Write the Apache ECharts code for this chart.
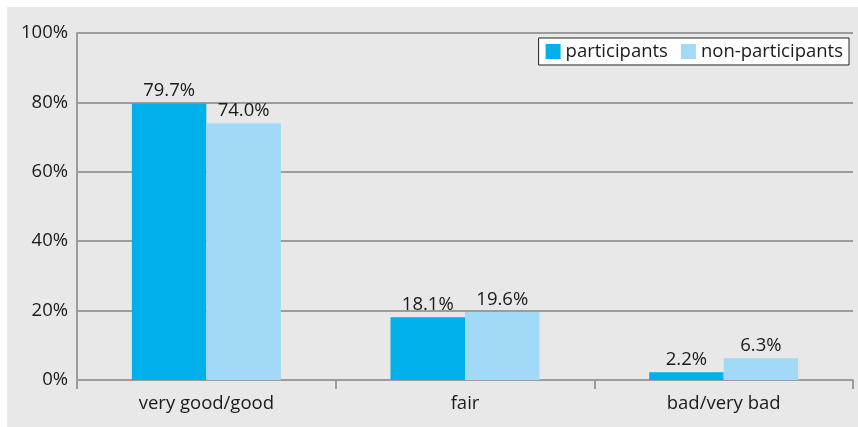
<!DOCTYPE html>
<html>
<head>
<meta charset="utf-8">
<script src="https://cdn.jsdelivr.net/npm/echarts@6/dist/echarts.min.js"></script>
<style>
html,body{margin:0;padding:0;background:#ffffff;}
#wrap{position:absolute;left:7px;top:7px;right:0;bottom:0;background:#e8e8e8;}
#chart{position:absolute;left:0;top:0;width:858px;height:427px;}
</style>
</head>
<body>
<div id="wrap"></div>
<div id="chart"></div>
<script>
const categories = ['very good/good', 'fair', 'bad/very bad'];
const seriesNames = ['participants', 'non-participants'];
const participants = [79.7, 18.1, 2.2];
const nonParticipants = [74.0, 19.6, 6.3];
const yTicks = [0, 20, 40, 60, 80, 100];

const FONT = '"Open Sans", "Noto Sans", sans-serif';
const FS = 18.5;
const chart = echarts.init(document.getElementById('chart'), null, {renderer: 'canvas'});
const labelOpt = {
  show: true, position: 'top', distance: 3,
  color: '#1a1a1a', fontSize: FS, fontFamily: FONT,
  formatter: p => p.value.toFixed(1) + '%'
};
chart.setOption({
  backgroundColor: 'transparent',
  animation: false,
  textStyle: {fontFamily: FONT},
  grid: {left: 77, top: 33, right: 5, bottom: 47, containLabel: false},
  legend: {
    right: 9, top: 38,
    data: seriesNames,
    backgroundColor: '#ffffff',
    borderColor: '#222222', borderWidth: 1, borderRadius: 0,
    padding: [4, 6, 4, 7],
    itemWidth: 15, itemHeight: 15, itemGap: 13,
    icon: 'rect',
    textStyle: {fontSize: FS, color: '#1a1a1a', fontFamily: FONT}
  },
  xAxis: {
    type: 'category',
    data: categories,
    axisLine: {show: true, lineStyle: {color: '#9c9c9c', width: 2}},
    axisTick: {show: true, alignWithLabel: false, length: 9, lineStyle: {color: '#9c9c9c', width: 2}},
    axisLabel: {color: '#1a1a1a', fontSize: FS, fontFamily: FONT, margin: 14}
  },
  yAxis: {
    type: 'value',
    min: yTicks[0], max: yTicks[yTicks.length - 1], interval: 20,
    axisLine: {show: true, lineStyle: {color: '#9c9c9c', width: 2}},
    axisTick: {show: false},
    splitLine: {show: true, lineStyle: {color: '#9c9c9c', width: 2}},
    axisLabel: {color: '#1a1a1a', fontSize: FS, fontFamily: FONT, margin: 9, formatter: '{value}%'}
  },
  series: [
    {name: seriesNames[0], type: 'bar', data: participants, barWidth: 74.5, barGap: '0%',
     itemStyle: {color: '#00b0ea'}, label: labelOpt},
    {name: seriesNames[1], type: 'bar', data: nonParticipants, barWidth: 74.5, barGap: '0%',
     itemStyle: {color: '#a2d9f6'}, label: labelOpt}
  ]
});
</script>
</body>
</html>
